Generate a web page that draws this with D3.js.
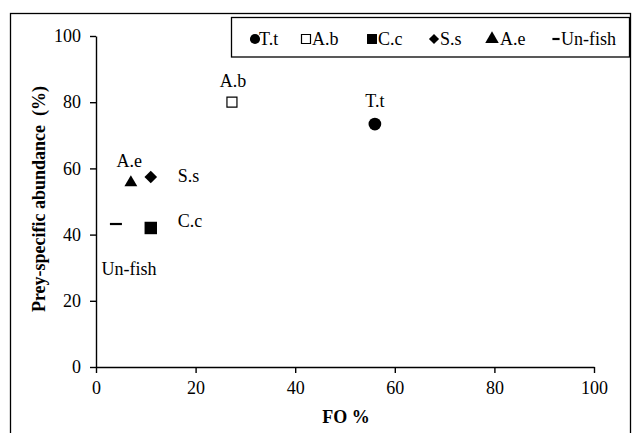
<!DOCTYPE html>
<html>
<head>
<meta charset="utf-8">
<script src="https://cdn.jsdelivr.net/npm/d3@7"></script>
<style>
  html, body { margin: 0; padding: 0; background: #fff; }
  svg { display: block; }
</style>
</head>
<body>
<svg id="chart" width="635" height="433"></svg>
<script>
// ---- data ----
const species = ["T.t", "A.b", "C.c", "S.s", "A.e", "Un-fish"];
const foValues = [56, 27.3, 11, 11, 7, 4];
const abundanceValues = [73.4, 80, 42, 57.4, 55.7, 43.2];
const xTicks = [0, 20, 40, 60, 80, 100];
const yTicks = [0, 20, 40, 60, 80, 100];
const xTitle = "FO %";
const yTitle = "Prey-specific abundance  (%)";

// ---- layout ----
const FONT = "'Liberation Serif', serif";
const svg = d3.select("#chart");
const plot = { left: 96, right: 594, top: 36, bottom: 367 };
const x = d3.scaleLinear().domain([0, 100]).range([plot.left, plot.right]);
const y = d3.scaleLinear().domain([0, 100]).range([plot.bottom, plot.top]);

// outer frame
svg.append("rect")
  .attr("x", 10.5).attr("y", 13.5)
  .attr("width", 620).attr("height", 440)
  .attr("fill", "#fff").attr("stroke", "#000").attr("stroke-width", 1.3);

// marker styles per species
const markerStyle = {
  "T.t":     { type: d3.symbolCircle,   size: 127, fill: "#000", stroke: "none", rot: 0 },
  "A.b":     { type: d3.symbolSquare,   size: 100, fill: "#fff", stroke: "#000", rot: 0 },
  "C.c":     { type: d3.symbolSquare,   size: 155, fill: "#000", stroke: "none", rot: 0 },
  "S.s":     { type: d3.symbolSquare,   size: 80,  fill: "#000", stroke: "none", rot: 45 },
  "A.e":     { type: d3.symbolTriangle, size: 72,  fill: "#000", stroke: "none", rot: 0 },
  "Un-fish": { type: "dash", width: 12 }
};
const legendMarkerScale = { "T.t": 0.8, "A.b": 0.9, "C.c": 0.8, "S.s": 0.8, "A.e": 1.05, "Un-fish": 0.6 };

function drawMarker(g, name, cx, cy, scale) {
  const st = markerStyle[name];
  if (st.type === "dash") {
    g.append("line")
      .attr("x1", cx - st.width / 2 * scale).attr("x2", cx + st.width / 2 * scale)
      .attr("y1", cy).attr("y2", cy)
      .attr("stroke", "#000").attr("stroke-width", 2.2);
    return;
  }
  g.append("path")
    .attr("d", d3.symbol().type(st.type).size(st.size * scale * scale)())
    .attr("transform", `translate(${cx},${cy}) rotate(${st.rot})`)
    .attr("fill", st.fill)
    .attr("stroke", st.stroke)
    .attr("stroke-width", 1.2);
}

// axes
const xAxis = d3.axisBottom(x).tickValues(xTicks).tickSize(6).tickSizeOuter(0).tickPadding(8);
const yAxis = d3.axisLeft(y).tickValues(yTicks).tickSize(6).tickSizeOuter(0).tickPadding(9);

const gx = svg.append("g").attr("transform", `translate(0,${plot.bottom})`).call(xAxis);
const gy = svg.append("g").attr("transform", `translate(${plot.left},0)`).call(yAxis);
[gx, gy].forEach(g => {
  g.select(".domain").attr("stroke", "#000").attr("stroke-width", 1.4);
  g.selectAll(".tick line").attr("stroke", "#000").attr("stroke-width", 1.4);
  g.selectAll(".tick text")
    .style("font-family", FONT).style("font-size", "18px").style("fill", "#000");
});

// axis titles
svg.append("text")
  .attr("x", 346).attr("y", 423)
  .attr("text-anchor", "middle")
  .style("font-family", FONT)
  .style("font-size", "18px").style("font-weight", "bold")
  .text(xTitle);

svg.append("text")
  .attr("transform", "translate(45,199) rotate(-90)")
  .attr("text-anchor", "middle")
  .style("font-family", FONT)
  .style("font-size", "18px").style("font-weight", "bold")
  .style("white-space", "pre")
  .text(yTitle);

// points
const gp = svg.append("g");
species.forEach((name, i) => {
  drawMarker(gp, name, x(foValues[i]), y(abundanceValues[i]), 1);
});

// point labels (offsets relative to each point)
const labelOffset = {
  "T.t":     { dx: 0,   dy: -17, anchor: "middle" },
  "A.b":     { dx: 1,   dy: -15, anchor: "middle" },
  "C.c":     { dx: 27,  dy: -1,  anchor: "start" },
  "S.s":     { dx: 27,  dy: 5,   anchor: "start" },
  "A.e":     { dx: -1.5, dy: -16, anchor: "middle" },
  "Un-fish": { dx: 13,  dy: 51,  anchor: "middle" }
};
species.forEach((name, i) => {
  const o = labelOffset[name];
  svg.append("text")
    .attr("x", x(foValues[i]) + o.dx)
    .attr("y", y(abundanceValues[i]) + o.dy)
    .attr("text-anchor", o.anchor)
    .style("font-family", FONT)
    .style("font-size", "18px")
    .text(name);
});

// legend
const legend = svg.append("g");
legend.append("rect")
  .attr("x", 231.5).attr("y", 17.5)
  .attr("width", 398).attr("height", 39.5)
  .attr("fill", "#fff").attr("stroke", "#000").attr("stroke-width", 1.3);

const legendMarkerX = [255, 306, 372, 434, 492, 556];
const legendTextX = [259, 312, 378, 440, 500, 561];
species.forEach((name, i) => {
  drawMarker(legend, name, legendMarkerX[i], 39, legendMarkerScale[name]);
  legend.append("text")
    .attr("x", legendTextX[i])
    .attr("y", 45)
    .style("font-family", FONT)
    .style("font-size", "18px")
    .text(name);
});
</script>
</body>
</html>
